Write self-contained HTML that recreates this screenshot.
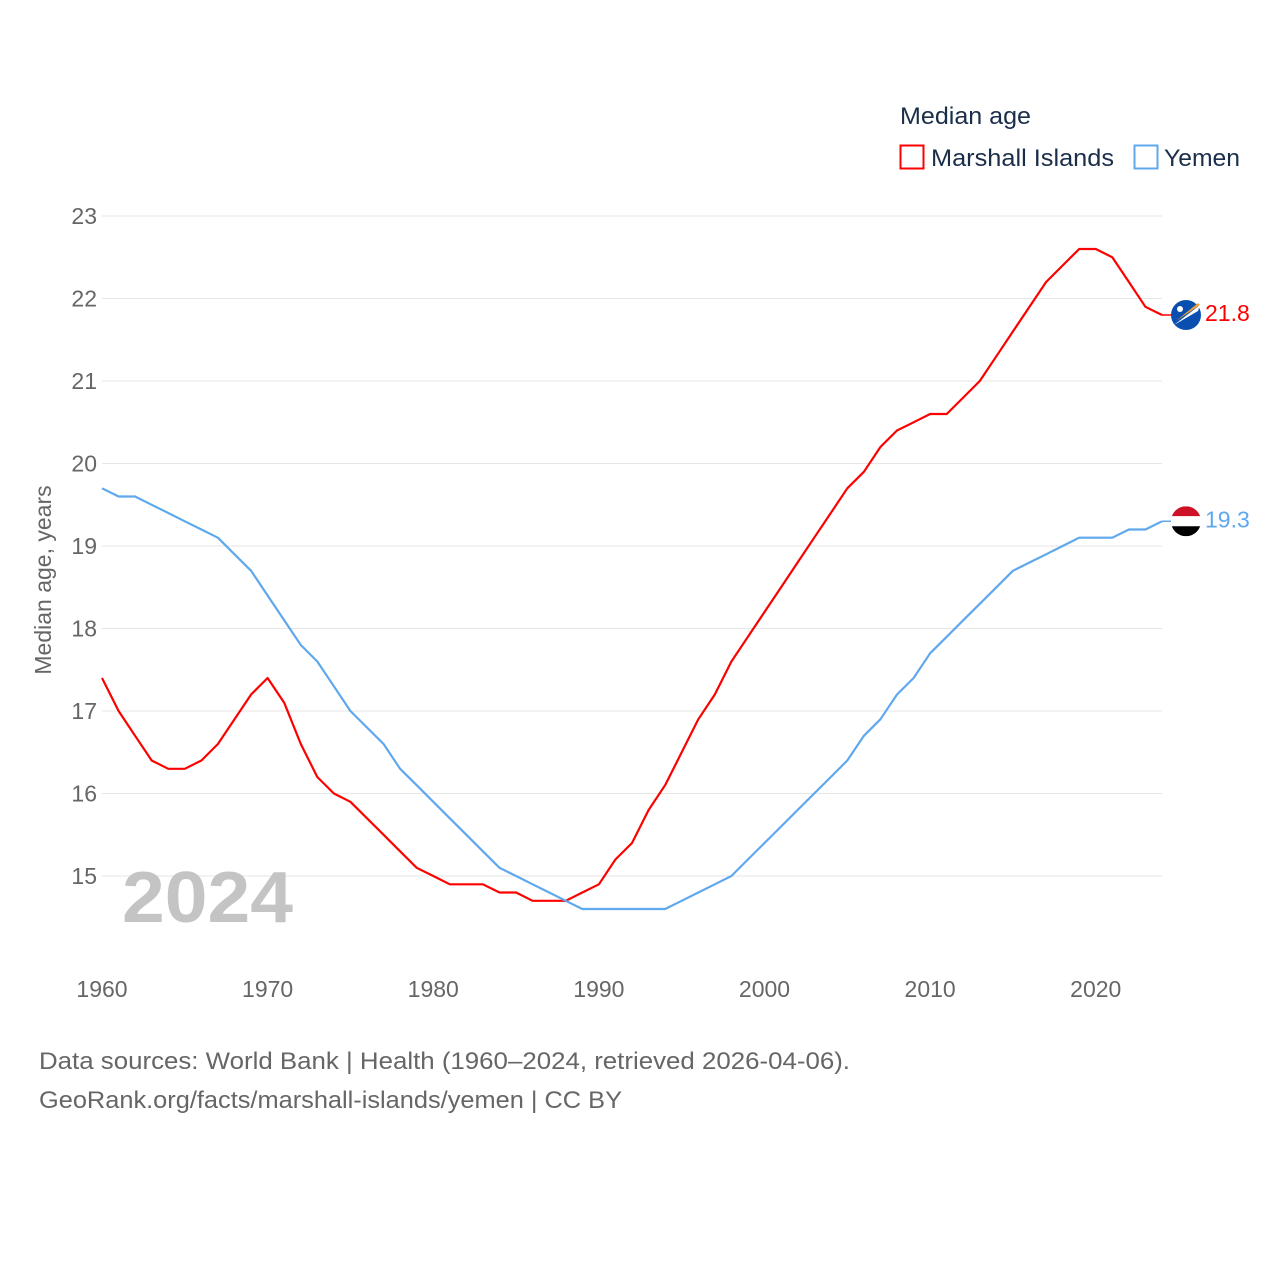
<!DOCTYPE html>
<html><head><meta charset="utf-8"><style>
body{margin:0;background:#fff;}
svg text{font-family:"Liberation Sans",sans-serif;}
</style></head><body>
<svg id="chart" width="1280" height="1280" xmlns="http://www.w3.org/2000/svg">
<rect width="1280" height="1280" fill="#fff"/>
<g id="grid"></g>
<g id="yticks"></g>
<g id="xticks"></g>
<text x="122" y="922" font-size="72" font-weight="bold" fill="#c4c4c4" textLength="171" lengthAdjust="spacingAndGlyphs">2024</text>
<text transform="translate(51,580) rotate(-90)" text-anchor="middle" font-size="23" fill="#666">Median age, years</text>
<text x="900" y="124" font-size="24" fill="#1a2e4a" textLength="131" lengthAdjust="spacingAndGlyphs">Median age</text>
<rect x="900.5" y="145.5" width="23" height="23" fill="none" stroke="#ff0000" stroke-width="2"/>
<text x="931" y="166" font-size="24" fill="#1a2e4a" textLength="183" lengthAdjust="spacingAndGlyphs">Marshall Islands</text>
<rect x="1134.5" y="145.5" width="23" height="23" fill="none" stroke="#5fa8ee" stroke-width="2"/>
<text x="1164" y="166" font-size="24" fill="#1a2e4a" textLength="76" lengthAdjust="spacingAndGlyphs">Yemen</text>
<g id="series"></g>
<text x="39" y="1069" font-size="24" fill="#666" textLength="811" lengthAdjust="spacingAndGlyphs">Data sources: World Bank | Health (1960–2024, retrieved 2026-04-06).</text>
<text x="39" y="1108" font-size="24" fill="#666" textLength="583" lengthAdjust="spacingAndGlyphs">GeoRank.org/facts/marshall-islands/yemen | CC BY</text>
</svg>
<script>
const years = [];
for (let y = 1960; y <= 2024; y++) years.push(y);
const marshallValues = [17.4,17.0,16.7,16.4,16.3,16.3,16.4,16.6,16.9,17.2,17.4,17.1,16.6,16.2,16.0,15.9,15.7,15.5,15.3,15.1,15.0,14.9,14.9,14.9,14.8,14.8,14.7,14.7,14.7,14.8,14.9,15.2,15.4,15.8,16.1,16.5,16.9,17.2,17.6,17.9,18.2,18.5,18.8,19.1,19.4,19.7,19.9,20.2,20.4,20.5,20.6,20.6,20.8,21.0,21.3,21.6,21.9,22.2,22.4,22.6,22.6,22.5,22.2,21.9,21.8];
const yemenValues = [19.7,19.6,19.6,19.5,19.4,19.3,19.2,19.1,18.9,18.7,18.4,18.1,17.8,17.6,17.3,17.0,16.8,16.6,16.3,16.1,15.9,15.7,15.5,15.3,15.1,15.0,14.9,14.8,14.7,14.6,14.6,14.6,14.6,14.6,14.6,14.7,14.8,14.9,15.0,15.2,15.4,15.6,15.8,16.0,16.2,16.4,16.7,16.9,17.2,17.4,17.7,17.9,18.1,18.3,18.5,18.7,18.8,18.9,19.0,19.1,19.1,19.1,19.2,19.2,19.3];
const yTickValues = [15,16,17,18,19,20,21,22,23];
const xTickValues = [1960,1970,1980,1990,2000,2010,2020];

const NS = "http://www.w3.org/2000/svg";
const X0 = 102, X1 = 1162;
function xs(yr){ return X0 + (yr - 1960) * (X1 - X0) / 64; }
function ys(v){ return 876 - (v - 15) * 82.5; }
function mk(tag, attrs, parent){ const e = document.createElementNS(NS, tag); for (const k in attrs) e.setAttribute(k, attrs[k]); parent.appendChild(e); return e; }

const grid = document.getElementById('grid'), yt = document.getElementById('yticks'), xt = document.getElementById('xticks'), ser = document.getElementById('series');
yTickValues.forEach(v => {
  const l = mk('line', {x1: X0, x2: X1, y1: ys(v), y2: ys(v), stroke: '#e6e6e6', 'stroke-width': 1}, grid);
  
  
  const t = mk('text', {x: 97, y: ys(v) + 8, 'text-anchor': 'end', 'font-size': 23, fill: '#666'}, yt);
  t.textContent = v;
  
  
});
xTickValues.forEach(v => {
  const t = mk('text', {x: xs(v), y: 997, 'text-anchor': 'middle', 'font-size': 23, fill: '#666'}, xt);
  t.textContent = v;
  
  
});
function line(vals, color, name){
  const d = vals.map((v,i) => (i ? 'L' : 'M') + xs(years[i]).toFixed(1) + ',' + ys(v).toFixed(1)).join('');
  const p = mk('path', {d: d, fill: 'none', stroke: color, 'stroke-width': 2.2, 'stroke-linejoin': 'round'}, ser);
  
  
  const last = vals[vals.length - 1];
  const cy = ys(last);
  mk('line', {x1: X1, x2: 1174, y1: cy, y2: cy, stroke: color, 'stroke-width': 1.5}, ser);
  const lab = mk('text', {x: 1205, y: cy + 6, 'font-size': 23, fill: color}, ser);
  lab.textContent = last.toFixed(1);
  
  
  return cy;
}
const cm = line(marshallValues, '#ff0000', 'marshall-islands-line');
const cyem = line(yemenValues, '#5fa8ee', 'yemen-line');
const fm = mk('g', {}, ser);


mk('circle', {cx: 1186, cy: cm, r: 15, fill: '#0a4fb0'}, fm);
mk('path', {d: `M${1174},${cm+10} L${1200},${cm-10} L${1198},${cm-4} Z`, fill: '#fff'}, fm);
mk('path', {d: `M${1176},${cm+6} L${1198},${cm-12} L${1200},${cm-10} Z`, fill: '#f5a030'}, fm);
mk('circle', {cx: 1180, cy: cm - 6, r: 3, fill: '#fff'}, fm);
const fy = mk('g', {}, ser);


mk('clipPath', {id: 'yc'}, fy);
mk('circle', {cx: 1186, cy: cyem, r: 15}, fy.querySelector('#yc'));
mk('rect', {x: 1171, y: cyem - 15, width: 30, height: 10, fill: '#ce1126', 'clip-path': 'url(#yc)'}, fy);
mk('rect', {x: 1171, y: cyem - 5, width: 30, height: 10, fill: '#fff', 'clip-path': 'url(#yc)'}, fy);
mk('rect', {x: 1171, y: cyem + 5, width: 30, height: 10, fill: '#000', 'clip-path': 'url(#yc)'}, fy);
</script>
</body></html>
